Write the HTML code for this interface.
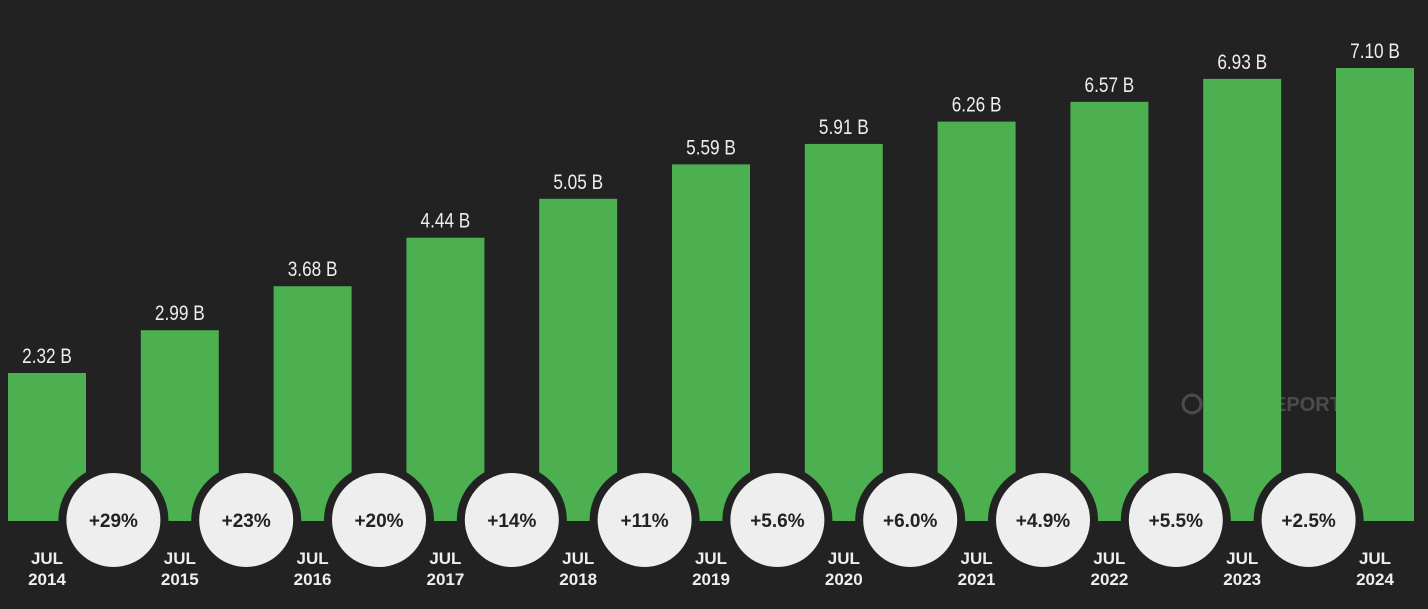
<!DOCTYPE html>
<html><head><meta charset="utf-8"><style>
html,body{margin:0;padding:0;background:#222222;}
svg{display:block}
</style></head><body>
<svg id="chart" width="1428" height="609" viewBox="0 0 1428 609" xmlns="http://www.w3.org/2000/svg">
<rect width="1428" height="609" fill="#222222"/>
<g id="watermark" opacity="0.22">
<circle cx="1192" cy="404" r="9" fill="none" stroke="#ddd" stroke-width="3"/>
<text x="1206" y="411" font-family="Liberation Sans, sans-serif" font-weight="bold" font-size="20" fill="#ddd">DATAREPORTAL</text>
</g>
<g id="bars"></g>
<g id="circles"></g>
<g id="labels"></g>
</svg>
<script>
const years = ["2014","2015","2016","2017","2018","2019","2020","2021","2022","2023","2024"];
const values = [2.32,2.99,3.68,4.44,5.05,5.59,5.91,6.26,6.57,6.93,7.10];
const valueLabels = ["2.32 B","2.99 B","3.68 B","4.44 B","5.05 B","5.59 B","5.91 B","6.26 B","6.57 B","6.93 B","7.10 B"];
const growth = ["+29%","+23%","+20%","+14%","+11%","+5.6%","+6.0%","+4.9%","+5.5%","+2.5%"];

const NS="http://www.w3.org/2000/svg";
const baseY=521, pxPerB=63.8, x0=8, step=132.8, bw=78;
function xScale(i){return x0+i*step;}
function yScale(v){return baseY-v*pxPerB;}
function mk(tag,attrs,parent){const e=document.createElementNS(NS,tag);for(const k in attrs)e.setAttribute(k,attrs[k]);parent.appendChild(e);return e;}
const gb=document.getElementById('bars'),gc=document.getElementById('circles'),gl=document.getElementById('labels');
values.forEach((v,i)=>{
  const x=xScale(i), y=yScale(v);
  const r=mk('rect',{x:x,y:y,width:bw,height:baseY-y,fill:'#4caf50'},gb);
  
  
  const t=mk('text',{x:0,y:0,'font-family':'Liberation Sans Narrow, Liberation Sans, sans-serif','font-size':21,fill:'#eeeeee','text-anchor':'middle',transform:`translate(${x+bw/2},${y-10}) scale(0.82,1)`},gl);
  t.textContent=valueLabels[i];
  
  
  const a=mk('text',{x:x+bw/2,y:564,'font-family':'Liberation Sans, sans-serif','font-weight':'bold','font-size':17,fill:'#eeeeee','text-anchor':'middle'},gl);
  a.textContent='JUL';
  
  
  const b=mk('text',{x:x+bw/2,y:585,'font-family':'Liberation Sans, sans-serif','font-weight':'bold','font-size':17,fill:'#eeeeee','text-anchor':'middle'},gl);
  b.textContent=years[i];
  
  
});
growth.forEach((g,i)=>{
  const cx=xScale(i)+bw+(step-bw)/2, cy=520;
  const o=mk('circle',{cx:cx,cy:cy,r:55,fill:'#222222'},gc);
  
  
  const c=mk('circle',{cx:cx,cy:cy,r:47,fill:'#eeeeee'},gc);
  
  
  const t=mk('text',{x:cx,y:cy+7,'font-family':'Liberation Sans, sans-serif','font-weight':'bold','font-size':19,fill:'#222222','text-anchor':'middle'},gc);
  t.textContent=g;
  
  
});
</script>
</body></html>
